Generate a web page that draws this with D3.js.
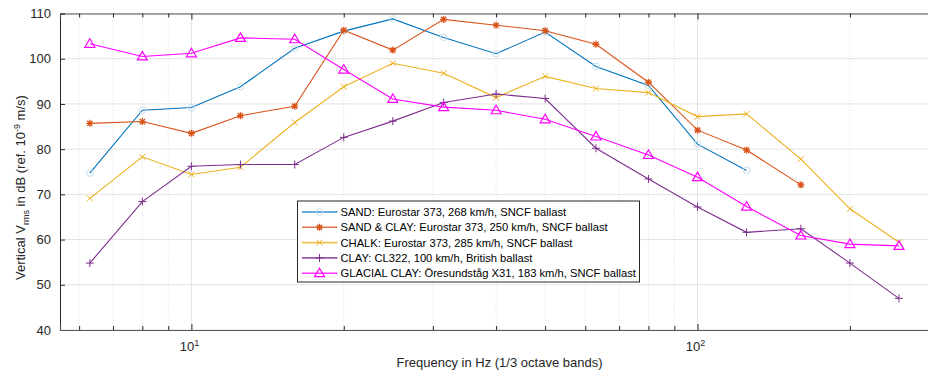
<!DOCTYPE html>
<html>
<head>
<meta charset="utf-8">
<script src="https://cdn.jsdelivr.net/npm/d3@7"></script>
<style>
  body { margin:0; background:#fff; }
  svg { display:block; font-family:"Liberation Sans", Arial, Helvetica, sans-serif; }
</style>
</head>
<body>
<div id="canvas"></div>
<script>
//---- ---- DATA ---- ----
var freqs = [6.3, 8, 10, 12.5, 16, 20, 25, 31.5, 40, 50, 63, 80, 100, 125, 160, 200, 250];
var sand      = [74.7, 88.6, 89.2, 93.8, 102.3, 106.1, 108.8, 104.7, 101.1, 105.9, 98.3, 94.1, 81.1, 75.3];
var sandClay  = [85.7, 86.1, 83.5, 87.4, 89.5, 106.3, 101.9, 108.7, 107.4, 106.2, 103.2, 94.8, 84.2, 79.8, 72.1];
var chalk     = [69.1, 78.3, 74.4, 76.0, 85.9, 93.8, 99.0, 96.8, 91.4, 96.1, 93.4, 92.5, 87.2, 87.8, 77.8, 66.8, 59.4];
var clay      = [54.8, 68.4, 76.2, 76.6, 76.6, 82.6, 86.2, 90.3, 92.2, 91.2, 80.2, 73.4, 67.2, 61.6, 62.4, 54.8, 47.0];
var glacial   = [103.3, 100.5, 101.2, 104.6, 104.3, 97.6, 91.1, 89.3, 88.6, 86.6, 82.8, 78.7, 73.8, 67.3, 60.9, 59.0, 58.6];
var seriesNames = [
  'SAND: Eurostar 373, 268 km/h, SNCF ballast',
  'SAND & CLAY: Eurostar 373, 250 km/h, SNCF ballast',
  'CHALK: Eurostar 373, 285 km/h, SNCF ballast',
  'CLAY: CL322, 100 km/h, British ballast',
  'GLACIAL CLAY: Öresundståg X31, 183 km/h, SNCF ballast'
];
var yTicks = [40, 50, 60, 70, 80, 90, 100, 110];
var xMajor = [10, 100];
var xMinor = [6, 7, 8, 9, 20, 30, 40, 50, 60, 70, 80, 90, 200];

var colors = ['#0072BD', '#D95319', '#EDB120', '#7E2F8E', '#FF00FF'];
var markers = ['circle', 'asterisk', 'cross', 'plus', 'triangle'];
var allSeries = [sand, sandClay, chalk, clay, glacial];

//---- ---- MARGIN CONVENTION ---- ----
var W = 928, H = 371;
var m = {t:13.5, l:60};
var w = 879, h = 316.5;

var svg = d3.select('#canvas').append('svg')
  .attr('width', W).attr('height', H);

//---- ---- SCALES ---- ----
var scaleX = d3.scaleLog().domain([5.5, 300]).range([m.l, m.l + w]);
var scaleY = d3.scaleLinear().domain([40, 110]).range([m.t + h, m.t]);

var plot = svg.append('g');

// ---- ---- GRID ---- ----
plot.selectAll('.gy').data(yTicks).enter().append('line')
  .attr('x1', m.l).attr('x2', m.l + w)
  .attr('y1', function(d){ return scaleY(d); })
  .attr('y2', function(d){ return scaleY(d); })
  .attr('stroke', '#e3e3e3').attr('stroke-width', 1);

plot.selectAll('.gxm').data(xMinor).enter().append('line')
  .attr('x1', function(d){ return scaleX(d); })
  .attr('x2', function(d){ return scaleX(d); })
  .attr('y1', m.t).attr('y2', m.t + h)
  .attr('stroke', '#d6d6d6').attr('stroke-width', 0.8)
  .attr('stroke-dasharray', '1,2');

plot.selectAll('.gx').data(xMajor).enter().append('line')
  .attr('x1', function(d){ return scaleX(d); })
  .attr('x2', function(d){ return scaleX(d); })
  .attr('y1', m.t).attr('y2', m.t + h)
  .attr('stroke', '#e3e3e3').attr('stroke-width', 1);

// ---- ---- AXES ---- ----
var axisColor = '#262626';
var axisY = d3.axisLeft(scaleY).tickValues(yTicks).tickSize(-5).tickPadding(9);
var gY = svg.append('g').attr('transform', 'translate(' + m.l + ',0)').call(axisY);
gY.selectAll('text').attr('font-size', 13).attr('fill', axisColor);
gY.select('.domain').attr('stroke', axisColor);
gY.selectAll('.tick line').attr('stroke', axisColor);

var axisB = d3.axisBottom(scaleX).tickValues(xMajor.concat(xMinor)).tickSize(-5).tickFormat('');
var gB = svg.append('g').attr('transform', 'translate(0,' + (m.t + h) + ')').call(axisB);
var axisT = d3.axisTop(scaleX).tickValues(xMajor.concat(xMinor)).tickSize(-5).tickFormat('');
var gT = svg.append('g').attr('transform', 'translate(0,' + m.t + ')').call(axisT);
[gB, gT].forEach(function(g){
  g.select('.domain').attr('stroke', '#555').attr('stroke-width', 1.2);
  g.selectAll('.tick line').attr('stroke', axisColor);
});
gB.selectAll('.tick line').attr('y2', function(d){ return xMajor.indexOf(d) >= 0 ? -6 : -4; });
gT.selectAll('.tick line').attr('y2', function(d){ return xMajor.indexOf(d) >= 0 ? 6 : 4; });

// decade labels 10^1, 10^2
var dec = svg.selectAll('.dec').data(xMajor).enter().append('text')
  .attr('x', function(d){ return scaleX(d) - 2; })
  .attr('y', m.t + h + 21)
  .attr('text-anchor', 'middle')
  .attr('font-size', 13).attr('fill', axisColor);
dec.append('tspan').text('10');
dec.append('tspan').attr('dy', -5).attr('font-size', 9)
  .text(function(d){ return Math.round(Math.log10(d)); });

// axis titles
svg.append('text')
  .attr('x', scaleX(Math.sqrt(5.5 * 300))).attr('y', 367)
  .attr('text-anchor', 'middle').attr('font-size', 13).attr('fill', axisColor)
  .text('Frequency in Hz (1/3 octave bands)');

var yl = svg.append('text')
  .attr('transform', 'translate(25,280) rotate(-90)')
  .attr('text-anchor', 'start').attr('font-size', 13).attr('fill', axisColor);
yl.append('tspan').text('Vertical V');
yl.append('tspan').attr('dy', 4).attr('font-size', 9).text('rms');
yl.append('tspan').attr('dy', -4).text(' in dB (ref. 10');
yl.append('tspan').attr('dy', -5).attr('font-size', 9).text('-9');
yl.append('tspan').attr('dy', 5).text(' m/s)');

// ---- ---- MARKERS ---- ----
function drawMarker(g, type, color, x, y) {
  if (type === 'circle') {
    g.append('circle').attr('cx', x).attr('cy', y).attr('r', 3.3)
      .attr('fill', 'none').attr('stroke', '#c3dff2').attr('stroke-width', 1);
  } else if (type === 'asterisk') {
    var s = 3.5;
    g.append('path')
      .attr('d', 'M' + (x - s) + ',' + y + 'H' + (x + s) + 'M' + x + ',' + (y - s) + 'V' + (y + s) +
        'M' + (x - s * 0.75) + ',' + (y - s * 0.75) + 'L' + (x + s * 0.75) + ',' + (y + s * 0.75) +
        'M' + (x - s * 0.75) + ',' + (y + s * 0.75) + 'L' + (x + s * 0.75) + ',' + (y - s * 0.75))
      .attr('stroke', color).attr('stroke-width', 1.3).attr('fill', 'none');
  } else if (type === 'cross') {
    var c = 3;
    g.append('path')
      .attr('d', 'M' + (x - c) + ',' + (y - c) + 'L' + (x + c) + ',' + (y + c) +
        'M' + (x - c) + ',' + (y + c) + 'L' + (x + c) + ',' + (y - c))
      .attr('stroke', color).attr('stroke-width', 1).attr('fill', 'none');
  } else if (type === 'plus') {
    var p = 4;
    g.append('path')
      .attr('d', 'M' + (x - p) + ',' + y + 'H' + (x + p) + 'M' + x + ',' + (y - p) + 'V' + (y + p))
      .attr('stroke', color).attr('stroke-width', 1).attr('fill', 'none');
  } else if (type === 'triangle') {
    var t = 5;
    g.append('path')
      .attr('d', 'M' + x + ',' + (y - t) + 'L' + (x + t) + ',' + (y + t * 0.7) + 'L' + (x - t) + ',' + (y + t * 0.7) + 'Z')
      .attr('stroke', color).attr('stroke-width', 1.2).attr('fill', 'none');
  }
}

// ---- ---- LINES ---- ----
var line = d3.line()
  .x(function(d){ return scaleX(d.f); })
  .y(function(d){ return scaleY(d.v); });

allSeries.forEach(function(vals, i) {
  var pts = vals.map(function(v, j){ return {f: freqs[j], v: v}; });
  var g = svg.append('g');
  g.append('path').datum(pts)
    .attr('d', line)
    .attr('fill', 'none').attr('stroke', colors[i]).attr('stroke-width', 1.1);
  pts.forEach(function(p){ drawMarker(g, markers[i], colors[i], scaleX(p.f), scaleY(p.v)); });
});

// ---- ---- LEGEND ---- ----
var lg = svg.append('g').attr('transform', 'translate(297.5,201)');
lg.append('rect').attr('width', 342).attr('height', 81)
  .attr('fill', '#fff').attr('stroke', axisColor).attr('stroke-width', 1);
seriesNames.forEach(function(name, i) {
  var y = 11 + i * 15.3;
  lg.append('line').attr('x1', 4.5).attr('x2', 40).attr('y1', y).attr('y2', y)
    .attr('stroke', colors[i]).attr('stroke-width', 1.6).attr('stroke-opacity', 0.8);
  drawMarker(lg, markers[i], colors[i], 22, y);
  lg.append('text').attr('x', 43).attr('y', y + 4)
    .attr('font-size', 11.2).attr('fill', '#000').text(name);
});
</script>
</body>
</html>
